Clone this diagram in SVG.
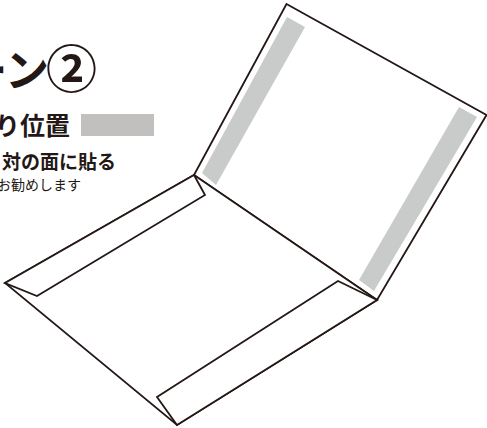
<svg xmlns="http://www.w3.org/2000/svg" width="487" height="428" viewBox="0 0 487 428">
<style>
.l{fill:#fff;stroke:#231815;stroke-width:1.8;stroke-linejoin:miter}
.s{fill:#c9cbca}
text{font-family:"Noto Sans CJK JP","Noto Sans",sans-serif;fill:#231815;text-anchor:end}
.b{font-weight:700}
</style>
<rect width="487" height="428" fill="#fff"/>
<g id="text">
<text class="b" x="49" y="87" font-size="44">ーン</text>
<text class="b" x="97" y="88" font-size="51">②</text>
<text class="b" x="70" y="135" font-size="25">り位置</text>
<text class="b" x="116" y="169" font-size="19">対の面に貼る</text>
<text x="81" y="190" font-size="14">お勧めします</text>
</g>
<rect id="swatch" x="81" y="114" width="73" height="22" fill="#c2bfbf"/>
<g id="envelope">
<path id="top-panel" class="l" d="M286.500 4L486.500 115L377 300L194 175Z"/>
<path id="strip-left" class="s" d="M287 17L305 27L216 185L202 173Z"/>
<path id="strip-right" class="s" d="M459 107L477 117L374 291L359 280Z"/>
<path id="lower-panel" class="l" d="M194 175L5 283L177 425L377 300Z"/>
<path id="flap-left" class="l" d="M194 175L205 195L37 296L5 283Z"/>
<path id="flap-bottom" class="l" d="M377 300L338 281L157 397L177 425Z"/>
</g>
</svg>
